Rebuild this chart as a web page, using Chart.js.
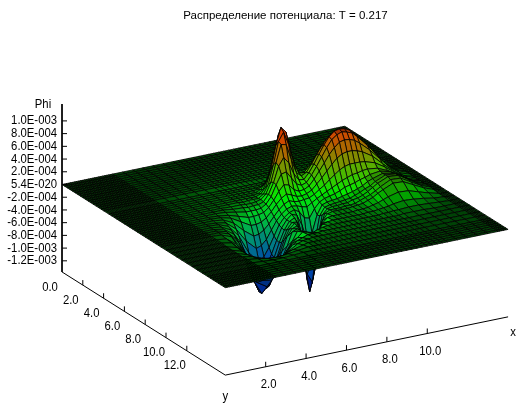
<!DOCTYPE html>
<html><head><meta charset="utf-8">
<style>html,body{margin:0;padding:0;background:#fff}canvas{display:block}</style>
<script src="https://cdn.jsdelivr.net/npm/chart.js@4/dist/chart.umd.min.js"></script>
</head><body><canvas id="c" width="517" height="405"></canvas>
<script>
const titleText = 'Распределение потенциала: T = 0.217';
// grid lines of the surface
const edgeXLow = [0,0.1,0.2,0.3,0.4,0.5,0.6,0.7,0.8,0.9,1,1.1,1.2,1.3,1.4,1.5,1.6,1.7,1.8,1.9,2,2.1,2.2,2.3,2.4];
const coreX = [2.5,3,3.5,4,4.5,5,5.5,5.75,6,6.25,6.5,6.75,7,7.25,7.5,7.75,8,8.25,8.5,8.75,9,9.25,9.5,9.75,10,10.25,10.5,10.75,11,11.5,12,12.5,13,13.5];
const edgeXHigh = [13.6,13.7,13.8,13.9,14];
const edgeYLow = [0,0.25,0.5,0.75,1,1.25,1.5,1.75,2,2.25,2.5,2.75,3,3.25,3.5,3.75];
const coreY = [4,4.5,4.75,5,5.25,5.5,5.75,6,6.25,6.5,6.75,7,7.25,7.5,7.75,8,8.25,8.5,8.75,9,9.25,9.5,10,10.5,11,11.5,12,12.5,13,13.5];
const edgeYHigh = [14,14.25,14.5,14.75,15,15.25,15.5,15.7];
// Phi, in units of 1e-5; one row per coreX, one column per coreY
const phiRows = [
[0,0,0,0,0,0,0,0,0,0,0,0,0,0,0,0,0,0,0,0,0,0,0,0,-1,-1,-1,-1,0,0],
[0,0,0,0,0,0,0,0,0,0,0,0,0,0,0,0,0,0,0,0,0,-1,-2,-3,-5,-6,-6,-4,-2,-1],
[0,0,0,0,0,0,0,0,0,0,0,0,0,0,0,-1,-1,-2,-3,-4,-5,-7,-14,-18,-20,-20,-16,-10,-5,-2],
[0,0,0,0,0,0,0,0,0,0,0,0,-1,-1,-2,-4,-7,-10,-14,-19,-23,-29,-42,-46,-44,-35,-24,-13,-6,-2],
[0,0,0,0,0,0,0,0,0,0,0,-1,-3,-5,-10,-17,-25,-35,-44,-54,-70,-78,-80,-72,-58,-42,-25,-12,-4,-1],
[0,0,0,0,0,0,0,0,0,-1,-2,-4,-8,-14,-25,-39,-55,-72,-87,-100,-106,-106,-90,-74,-50,-30,-15,-6,-2,0],
[0,0,0,0,0,0,0,0,0,-1,-3,-7,-13,-23,-37,-54,-72,-88,-104,-106,-100,-88,-68,-46,-26,-12,-5,-2,0,0],
[0,0,0,0,0,0,0,0,-1,-2,-4,-7,-13,-23,-36,-51,-66,-79,-85,-84,-75,-66,-50,-32,-16,-7,-2,0,0,0],
[0,0,0,0,0,0,0,0,0,-2,-3,-7,-12,-21,-31,-43,-53,-61,-64,-62,-53,-46,-33,-20,-9,-4,-1,0,0,0],
[0,0,0,0,0,0,0,0,0,-1,-3,-6,-10,-16,-23,-30,-37,-41,-42,-39,-32,-25,-12,-6,-2,-1,0,0,0,0],
[0,0,0,0,0,0,0,0,0,1,0,-1,-4,-8,-13,-17,-21,-23,-24,-21,-17,-14,-9,-8,-4,-1,0,0,0,0],
[0,0,0,0,0,0,1,3,5,8,10,9,6,2,-4,-8,-11,-12,-12,-11,-10,-11,-19,-17,-6,-1,0,0,0,0],
[0,0,0,0,1,3,6,12,19,25,27,26,18,10,3,-2,-5,-5,-8,-12,-23,-37,-50,-22,-3,0,0,0,0,0],
[0,0,0,1,5,12,23,37,48,54,51,41,27,15,7,1,-2,-8,-22,-44,-74,-90,-61,-13,-1,0,0,0,0,0],
[0,0,1,5,14,32,54,74,83,81,63,43,25,12,4,0,-7,-25,-65,-106,-122,-104,-33,-3,0,0,0,0,0,0],
[0,1,3,11,28,56,87,101,96,79,53,32,16,8,3,-3,-18,-50,-93,-113,-90,-54,-8,-1,0,0,0,0,0,0],
[0,1,6,16,37,65,87,92,75,54,34,21,12,7,4,-5,-20,-41,-55,-49,-28,-11,-1,0,0,0,0,0,0,0],
[0,2,6,16,32,48,58,57,44,32,23,17,13,9,5,0,-7,-14,-13,-9,-4,-2,0,0,0,0,0,0,0,0],
[0,1,5,10,19,27,30,30,27,25,22,20,17,13,9,5,2,0,-1,-1,0,0,0,0,0,0,0,0,0,0],
[0,0,2,5,9,14,18,22,26,29,31,30,26,21,15,9,6,3,1,1,0,0,0,0,0,0,0,0,0,0],
[0,0,1,3,6,11,17,25,34,40,43,42,37,29,20,13,8,4,2,1,0,0,0,0,0,0,0,0,0,0],
[0,1,2,4,8,14,23,34,44,53,57,55,48,38,27,17,10,5,3,2,1,0,0,0,0,0,0,0,0,0],
[0,1,2,5,10,18,28,41,55,65,70,68,60,47,33,21,13,7,4,2,1,1,1,0,0,0,0,0,0,0],
[0,1,2,6,11,20,32,48,63,75,81,79,69,55,39,25,17,9,5,5,2,2,1,1,0,0,0,0,0,0],
[0,1,3,6,12,22,35,52,69,82,88,85,76,60,43,28,19,11,8,6,5,3,2,1,0,0,0,0,0,0],
[0,1,3,6,12,22,36,53,70,84,90,88,78,62,45,31,21,14,11,9,8,6,4,2,1,0,0,0,0,0],
[0,1,3,6,12,22,35,52,69,82,89,86,77,62,45,32,24,17,15,13,11,9,6,3,1,0,0,0,0,0],
[0,1,3,6,12,21,34,50,66,78,85,83,74,60,45,34,26,22,18,18,15,14,9,4,2,0,0,0,0,0],
[0,1,2,5,11,19,30,45,59,72,77,76,68,57,44,35,29,25,23,23,20,18,12,6,2,1,0,0,0,0],
[0,1,2,4,8,15,23,34,45,55,59,59,54,47,39,33,31,30,30,30,28,25,16,8,3,1,0,0,0,0],
[0,0,1,3,5,10,15,22,30,36,39,40,37,32,29,26,27,27,29,29,27,24,15,7,3,1,0,0,0,0],
[0,0,1,1,3,5,8,12,16,19,20,21,20,18,17,16,18,18,19,19,18,16,10,5,2,0,0,0,0,0],
[0,0,0,1,1,2,3,5,6,7,8,9,8,7,8,7,7,9,9,9,9,8,5,2,1,0,0,0,0,0],
[0,0,0,0,0,1,1,2,2,3,3,3,3,2,2,2,3,2,3,3,3,2,1,1,0,0,0,0,0,0]
];
const phiTicks = [100,80,60,40,20,0,-20,-40,-60,-80,-100,-120];
const phiTickLabels = ['1.0E-003','8.0E-004','6.0E-004','4.0E-004','2.0E-004','5.4E-020','-2.0E-004','-4.0E-004','-6.0E-004','-8.0E-004','-1.0E-003','-1.2E-003'];
const xTicks = [2,4,6,8,10];
const xTickLabels = ['2.0','4.0','6.0','8.0','10.0'];
const yTicks = [0,2,4,6,8,10,12];
const yTickLabels = ['0.0','2.0','4.0','6.0','8.0','10.0','12.0'];
const axisRange = {xMax:14, yMax:15.7, phiMin:-137.5, phiMax:126.5};

function project(x,y,phi){
  return {x:62+20.2*x+10.4*y, y:184.5-4.16*x+6.57*y-0.636*phi};
}
const gridX=[...edgeXLow,...coreX,...edgeXHigh];
const gridY=[...edgeYLow,...coreY,...edgeYHigh];
function phiAt(i,j){
  const r=phiRows[i-edgeXLow.length];
  const v=r?r[j-edgeYLow.length]:0;
  return v===undefined?0:v;
}
const stops=[[-125,0,0,80],[-100,0,25,130],[-70,0,70,170],[-45,0,130,130],[-15,0,195,50],[10,0,235,0],[40,95,170,0],[65,165,110,0],[100,240,45,0]];
// the mesh opens up towards the middle of the plate and on steep faces, so cells look brighter there
function colour(p,slope,open){
  let a=stops[0],b=stops[stops.length-1];
  for(let k=0;k<stops.length-1;k++){ if(p>=stops[k][0]&&p<=stops[k+1][0]){a=stops[k];b=stops[k+1];break;} }
  if(p<stops[0][0]) b=a;
  const t=b===a?0:Math.min(1,Math.max(0,(p-a[0])/(b[0]-a[0])));
  const m=Math.min(1,0.3+0.4*open+0.64*Math.min(1,slope/35));
  return `rgb(${[1,2,3].map(n=>Math.round((a[n]+(b[n]-a[n])*t)*m)).join(',')})`;
}
const datasets=[];
function lineDs(pts){
  datasets.push({data:pts,showLine:true,fill:false,borderColor:'#000',borderWidth:1,pointRadius:0,clip:false});
}
const o=axisRange;
lineDs([project(0,0,o.phiMax),project(0,0,o.phiMin)]);
lineDs([project(0,0,o.phiMin),project(0,o.yMax,o.phiMin),project(o.xMax,o.yMax,o.phiMin)]);
phiTicks.forEach(t=>{const p=project(0,0,t);lineDs([p,{x:p.x+5,y:p.y}]);});
xTicks.forEach(t=>{const p=project(t,o.yMax,o.phiMin);lineDs([p,{x:p.x,y:p.y-5}]);});
yTicks.slice(1).forEach(t=>{const p=project(0,t,o.phiMin);lineDs([p,{x:p.x,y:p.y-5}]);});
for(let i=0;i<gridX.length-1;i++){
  for(let j=gridY.length-2;j>=0;j--){
    const q=[[i,j],[i+1,j],[i+1,j+1],[i,j+1]];
    const ps=q.map(([a,b])=>project(gridX[a],gridY[b],phiAt(a,b)));
    const mean=q.reduce((s,[a,b])=>s+phiAt(a,b),0)/4;
    const sx=Math.abs(phiAt(i+1,j)-phiAt(i,j))/(gridX[i+1]-gridX[i]);
    const sy=Math.abs(phiAt(i,j+1)-phiAt(i,j))/(gridY[j+1]-gridY[j]);
    const open=Math.max(0,1-Math.hypot(gridX[i]-7.5,gridY[j]-7.5)/6.5);
    datasets.push({data:[...ps,ps[0]],showLine:true,fill:'shape',backgroundColor:colour(mean,Math.max(sx,sy),open),
      borderColor:'#000',borderWidth:0.8,pointRadius:0,clip:false});
  }
}
const axisText={id:'axisText',afterDraw(ch){
  const c=ch.ctx,sx=ch.scales.x,sy=ch.scales.y;
  const at=(p,dx,dy,s,al)=>{c.save();c.translate(sx.getPixelForValue(p.x)+dx,sy.getPixelForValue(p.y)+dy);c.scale(0.87,1);c.textAlign=al;c.fillText(s,0,0);c.restore();};
  c.save();c.font='13px "Liberation Sans",sans-serif';c.fillStyle='#000';c.textBaseline='middle';
  phiTicks.forEach((t,k)=>at(project(0,0,t),-5,0,phiTickLabels[k],'right'));
  xTicks.forEach((t,k)=>at(project(t,o.yMax,o.phiMin),3,18,xTickLabels[k],'center'));
  yTicks.forEach((t,k)=>at(project(0,t,o.phiMin),-12,15,yTickLabels[k],'center'));
  at(project(0,0,o.phiMax),-19,0,'Phi','center');
  at(project(o.xMax,o.yMax,o.phiMin),5,16,'x','center');
  at(project(0,o.yMax,o.phiMin),0,21,'y','center');
  c.restore();
}};
new Chart(document.getElementById('c'),{
  type:'scatter',
  data:{datasets},
  plugins:[axisText],
  options:{responsive:false,animation:false,parsing:false,normalized:true,events:[],
    layout:{padding:{left:54,right:0,top:0,bottom:0}},
    scales:{x:{type:'linear',display:false,min:54,max:517},y:{type:'linear',display:false,reverse:true,min:30,max:405}},
    plugins:{legend:{display:false},tooltip:{enabled:false},
      title:{display:true,text:titleText,fullSize:false,color:'#000',
        font:{family:'"Liberation Sans",sans-serif',size:11.5,weight:'normal',lineHeight:1.3043},
        padding:{top:8,bottom:7}}}}
});
</script></body></html>
